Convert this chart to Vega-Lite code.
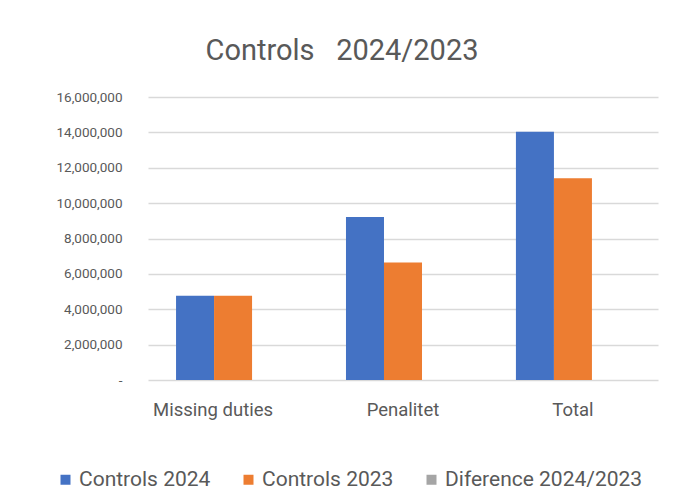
{
  "$schema": "https://vega.github.io/schema/vega-lite/v6.json",
  "width": 510,
  "height": 283,
  "autosize": {"type": "none"},
  "padding": {"left": 148, "top": 97, "right": 18, "bottom": 124},
  "background": "white",
  "title": {
    "text": "Controls \u00a0 2024/2023",
    "fontSize": 29,
    "font": "Roboto",
    "fontWeight": "normal",
    "color": "#595959",
    "anchor": "middle",
    "dx": -61,
    "offset": 24
  },
  "data": {
    "values": [
      {"category": "Missing duties", "series": "Controls 2024", "value": 4760000},
      {"category": "Missing duties", "series": "Controls 2023", "value": 4760000},
      {"category": "Missing duties", "series": "Diference 2024/2023", "value": null},
      {"category": "Penalitet", "series": "Controls 2024", "value": 9220000},
      {"category": "Penalitet", "series": "Controls 2023", "value": 6650000},
      {"category": "Penalitet", "series": "Diference 2024/2023", "value": null},
      {"category": "Total", "series": "Controls 2024", "value": 14030000},
      {"category": "Total", "series": "Controls 2023", "value": 11400000},
      {"category": "Total", "series": "Diference 2024/2023", "value": null}
    ]
  },
  "mark": {"type": "bar"},
  "encoding": {
    "x": {
      "field": "category",
      "type": "nominal",
      "sort": null,
      "scale": {"paddingInner": 0.329, "paddingOuter": 0.165},
      "axis": {
        "title": null,
        "labelAngle": 0,
        "ticks": false,
        "tickSize": 0,
        "domain": false,
        "labelPadding": 20,
        "labelFontSize": 18.5,
        "labelFont": "Roboto",
        "labelColor": "#595959",
        "labelOffset": {"condition": {"test": "datum.label == 'Missing duties'", "value": -20}, "value": 0}
      }
    },
    "xOffset": {
      "field": "series",
      "type": "nominal",
      "scale": {"domain": ["Controls 2024", "Controls 2023", "Diference 2024/2023"], "paddingInner": 0, "paddingOuter": 0}
    },
    "y": {
      "field": "value",
      "type": "quantitative",
      "scale": {"domain": [0, 16000000], "nice": false},
      "axis": {
        "title": null,
        "values": [0, 2000000, 4000000, 6000000, 8000000, 10000000, 12000000, 14000000, 16000000],
        "ticks": false,
        "tickSize": 0,
        "domain": false,
        "grid": true,
        "gridColor": "#D9D9D9",
        "gridWidth": 1.5,
        "labelPadding": 26,
        "labelFontSize": 13.5,
        "labelFont": "Roboto",
        "labelColor": "#595959",
        "labelExpr": "datum.value == 0 ? '-\u00a0\u00a0\u00a0' : format(datum.value, ',')"
      }
    },
    "color": {
      "field": "series",
      "type": "nominal",
      "scale": {
        "domain": ["Controls 2024", "Controls 2023", "Diference 2024/2023"],
        "range": ["#4472C4", "#ED7D31", "#A5A5A5"]
      },
      "legend": {
        "title": null,
        "orient": "none",
        "direction": "horizontal",
        "columns": 3,
        "legendX": -93,
        "legendY": 372,
        "padding": 0,
        "symbolType": "square",
        "symbolSize": 100,
        "symbolStrokeWidth": 0,
        "labelOffset": 3,
        "columnPadding": 27,
        "labelLimit": 400,
        "labelFontSize": 21,
        "labelFont": "Roboto",
        "labelColor": "#595959"
      }
    }
  },
  "config": {
    "view": {"stroke": null}
  }
}
